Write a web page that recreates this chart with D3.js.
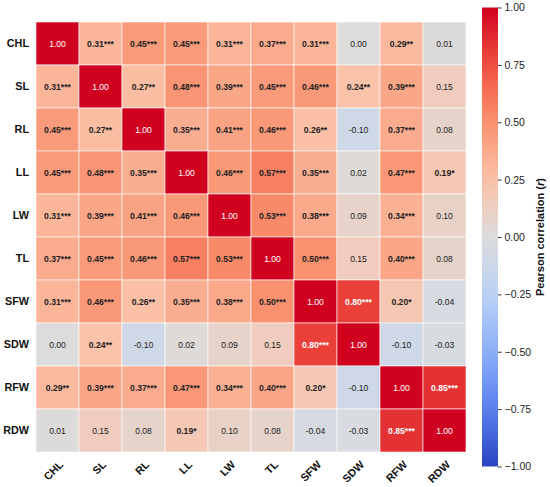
<!DOCTYPE html>
<html><head><meta charset="utf-8">
<script src="https://cdn.jsdelivr.net/npm/d3@7"></script>
<style>body{margin:0;background:#fff;} svg{display:block;font-family:"Liberation Sans",Arial,Helvetica,sans-serif;}</style>
</head><body>
<svg id="c" width="550" height="487"></svg>
<script>
const variables = ["CHL","SL","RL","LL","LW","TL","SFW","SDW","RFW","RDW"];
const corrValues = [
 [1.00,0.31,0.45,0.45,0.31,0.37,0.31,0.00,0.29,0.01],
 [0.31,1.00,0.27,0.48,0.39,0.45,0.46,0.24,0.39,0.15],
 [0.45,0.27,1.00,0.35,0.41,0.46,0.26,-0.10,0.37,0.08],
 [0.45,0.48,0.35,1.00,0.46,0.57,0.35,0.02,0.47,0.19],
 [0.31,0.39,0.41,0.46,1.00,0.53,0.38,0.09,0.34,0.10],
 [0.37,0.45,0.46,0.57,0.53,1.00,0.50,0.15,0.40,0.08],
 [0.31,0.46,0.26,0.35,0.38,0.50,1.00,0.80,0.20,-0.04],
 [0.00,0.24,-0.10,0.02,0.09,0.15,0.80,1.00,-0.10,-0.03],
 [0.29,0.39,0.37,0.47,0.34,0.40,0.20,-0.10,1.00,0.85],
 [0.01,0.15,0.08,0.19,0.10,0.08,-0.04,-0.03,0.85,1.00]
];
const stars = [
 ["","***","***","***","***","***","***","","**",""],
 ["***","","**","***","***","***","***","**","***",""],
 ["***","**","","***","***","***","**","","***",""],
 ["***","***","***","","***","***","***","","***","*"],
 ["***","***","***","***","","***","***","","***",""],
 ["***","***","***","***","***","","***","","***",""],
 ["***","***","**","***","***","***","","***","*",""],
 ["","**","","","","","***","","",""],
 ["**","***","***","***","***","***","*","","","***"],
 ["","","","*","","","","","***",""]
];
const colorbarTicks = [-1,-0.75,-0.5,-0.25,0,0.25,0.5,0.75,1];
const colorbarLabel = "Pearson correlation (r)";

const svg = d3.select("#c");
const L=36, T=22, S=430;
const x = d3.scaleBand().domain(variables).range([L,L+S]);
const y = d3.scaleBand().domain(variables).range([T,T+S]);
const color = d3.scaleLinear()
  .domain([-1,-0.75,-0.5,-0.25,0,0.25,0.5,0.75,1])
  .range(["#2a44c2","#5a80ee","#8caff8","#bbd2f5","#dcdcdc","#fbc2a8","#f9916f","#f15040","#d0021f"])
  .interpolate(d3.interpolateRgb);

const cells=[];
variables.forEach((r,i)=>variables.forEach((c,j)=>cells.push({r,c,v:corrValues[i][j],s:stars[i][j],diag:i===j})));

svg.append("g").selectAll("rect").data(cells).join("rect")
  .attr("x",d=>x(d.c)).attr("y",d=>y(d.r))
  .attr("width",x.bandwidth()).attr("height",y.bandwidth())
  .attr("fill",d=>color(d.v)).attr("stroke","#fff").attr("stroke-width",0.6);

const fmt = v => (v<0?"\u2212":"")+Math.abs(v).toFixed(2);
svg.append("g").selectAll("text").data(cells).join("text")
  .attr("x",d=>x(d.c)+x.bandwidth()/2).attr("y",d=>y(d.r)+y.bandwidth()/2)
  .attr("text-anchor","middle").attr("dy","0.36em")
  .attr("font-size",8.6)
  .attr("font-weight",d=>d.s&&!d.diag?"bold":"normal")
  .attr("fill",d=>(d.diag||Math.abs(d.v)>=0.7)?"#fff":"#222")
  .text(d=>(d.v<0?"-":"")+Math.abs(d.v).toFixed(2)+d.s);

// y labels
svg.append("g").selectAll("text").data(variables).join("text")
  .attr("x",29).attr("y",d=>y(d)+y.bandwidth()/2).attr("dy","0.36em")
  .attr("text-anchor","end").attr("font-size",10.8).attr("font-weight","bold").attr("fill","#111")
  .text(d=>d);
// x labels
svg.append("g").selectAll("text").data(variables).join("text")
  .attr("transform",d=>`translate(${x(d)+x.bandwidth()/2+1},${T+S+8}) rotate(-45)`)
  .attr("dy","0.7em")
  .attr("text-anchor","end").attr("font-size",10.8).attr("font-weight","bold").attr("fill","#111")
  .text(d=>d);

// colorbar
const cbX=482, cbW=16, cbT=7.5, cbB=466.5;
const cs = d3.scaleLinear().domain([-1,1]).range([cbB,cbT]);
const defs = svg.append("defs");
const grad = defs.append("linearGradient").attr("id","cg").attr("x1",0).attr("y1",1).attr("x2",0).attr("y2",0);
d3.range(0,1.0001,0.05).forEach(t=>grad.append("stop").attr("offset",t).attr("stop-color",color(-1+2*t)));
svg.append("rect").attr("x",cbX).attr("y",cbT).attr("width",cbW).attr("height",cbB-cbT).attr("fill","url(#cg)");
const ax = svg.append("g").attr("transform",`translate(${cbX+cbW},0)`)
  .call(d3.axisRight(cs).tickValues(colorbarTicks).tickSize(3.5).tickPadding(3).tickFormat(fmt));
ax.select(".domain").remove();
ax.selectAll("text").attr("font-size",10.5).attr("fill","#222").attr("font-family","Liberation Sans, Arial, sans-serif");
ax.selectAll("line").attr("stroke","#333");

const lab = svg.append("text").attr("transform",`translate(544,${(cbT+cbB)/2}) rotate(-90)`)
  .attr("text-anchor","middle").attr("font-size",11).attr("font-weight","bold").attr("fill","#111");
lab.append("tspan").text("Pearson correlation (");
lab.append("tspan").attr("font-style","italic").text("r");
lab.append("tspan").text(")");
</script>
</body></html>
